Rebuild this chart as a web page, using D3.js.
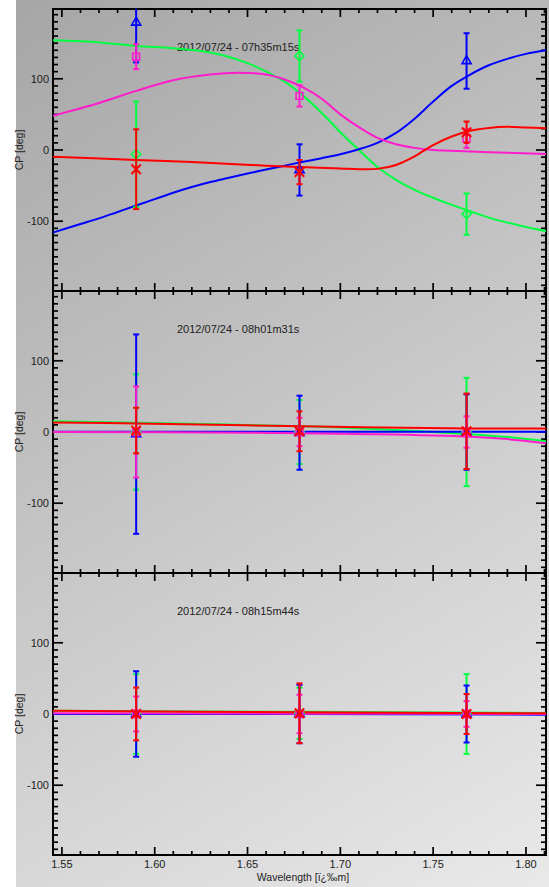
<!DOCTYPE html>
<html><head><meta charset="utf-8">
<script src="https://cdn.jsdelivr.net/npm/d3@7"></script>
<style>html,body{margin:0;padding:0;background:#fff;}svg{display:block;}</style>
</head><body>
<script>
// ---------- data ----------
const wavelengths = [1.59, 1.678, 1.768];
const panelTitles = ["2012/07/24 - 07h35m15s", "2012/07/24 - 08h01m31s", "2012/07/24 - 08h15m44s"];
const seriesNames = ["green", "blue", "magenta", "red"];
const seriesColors = {green: "#00ff40", blue: "#0000ff", magenta: "#ff1ccc", red: "#ff0000"};

// panel 1 : 07h35m15s
const p1Values = {green: [-6, 132, -90], blue: [179, -28, 125], magenta: [131, 76, 16], red: [-27, -31, 25]};
const p1Errors = {green: [74, 36, 29], blue: [56, 36, 39], magenta: [17.5, 15, 13], red: [56, 17, 15]};
// panel 2 : 08h01m31s
const p2Values = {green: [0, 0, 0], blue: [-3, -1, 0], magenta: [0, 0, 0], red: [2, 1, 1]};
const p2Errors = {green: [81, 45, 76], blue: [140, 52, 53], magenta: [64, 20, 22], red: [32, 28, 53]};
// panel 3 : 08h15m44s
const p3Values = {green: [0, 1, 0], blue: [0, 0, 0], magenta: [0, 0, 0], red: [0, 1, 0]};
const p3Errors = {green: [56, 36, 56], blue: [60, 41, 40], magenta: [24.5, 27, 18], red: [37, 42, 28]};

// model curves [wavelength, value]
const p1Curves = {
  green: [[1.545,154],[1.57,151],[1.59,146],[1.61,143],[1.63,137],[1.65,122],[1.67,96],[1.68,76],[1.69,52],[1.70,25],[1.71,0],[1.72,-24],[1.73,-42],[1.74,-56],[1.75,-67],[1.76,-77],[1.77,-86],[1.78,-95],[1.79,-102],[1.80,-108],[1.811,-114]],
  blue: [[1.545,-116],[1.56,-104],[1.57,-96],[1.58,-87],[1.59,-78],[1.60,-69],[1.61,-60],[1.62,-52],[1.63,-45],[1.64,-39],[1.65,-33],[1.66,-27.5],[1.67,-22],[1.68,-16.5],[1.69,-11.5],[1.70,-6],[1.71,1],[1.72,10],[1.73,24],[1.74,44],[1.75,68],[1.76,90],[1.77,106],[1.78,119],[1.79,128],[1.80,135],[1.811,140]],
  magenta: [[1.545,48],[1.57,66],[1.59,83],[1.61,98],[1.63,106],[1.645,108.5],[1.66,106],[1.67,99],[1.68,88],[1.69,72],[1.70,50],[1.71,32],[1.72,17],[1.73,8],[1.74,3],[1.75,0],[1.77,-2],[1.79,-4],[1.811,-5.5]],
  red: [[1.545,-9.4],[1.59,-14],[1.62,-17],[1.66,-22],[1.70,-26],[1.71,-27],[1.72,-26.5],[1.73,-21],[1.74,-9],[1.75,7],[1.76,19],[1.77,27],[1.78,31],[1.79,32.5],[1.80,31.5],[1.811,30.5]]
};
const p2Curves = {
  green: [[1.545,15],[1.59,13],[1.68,8],[1.72,4],[1.77,-3],[1.79,-7],[1.811,-13]],
  blue: [[1.545,0.5],[1.68,0.5],[1.811,0.4]],
  magenta: [[1.545,0],[1.65,-1],[1.70,-2.5],[1.72,-3],[1.77,-6.5],[1.79,-10],[1.811,-16]],
  red: [[1.545,13.5],[1.59,12],[1.68,8],[1.77,5],[1.811,5]]
};
const p3Curves = {
  green: [[1.545,4.6],[1.68,3],[1.811,1.5]],
  blue: [[1.545,0],[1.68,0],[1.811,-1]],
  magenta: [[1.545,1],[1.68,0.5],[1.811,0]],
  red: [[1.545,4.5],[1.68,2.5],[1.811,1]]
};

const xMajorTicks = [1.55, 1.60, 1.65, 1.70, 1.75, 1.80];
const yMajorTicks = [-100, 0, 100];
const xLabel = "Wavelength [ï¿‰m]";
const yLabel = "CP [deg]";

const panels = [
  {title: panelTitles[0], values: p1Values, errors: p1Errors, curves: p1Curves},
  {title: panelTitles[1], values: p2Values, errors: p2Errors, curves: p2Curves},
  {title: panelTitles[2], values: p3Values, errors: p3Errors, curves: p3Curves}
];
const markerTypes = {blue: d3.symbolTriangle2, green: d3.symbolDiamond2, magenta: d3.symbolSquare2, red: d3.symbolX};
const markerSizes = {blue: 60, green: 55, magenta: 60, red: 60};

// ---------- layout ----------
const W = 549, H = 887;
const L = 53, R = 546, panelTops = [9, 291, 573], PH = 282;
const font = "'Liberation Sans', Arial, Helvetica, sans-serif";

const svg = d3.select("body").append("svg").attr("width", W).attr("height", H);
const defs = svg.append("defs");
const grad = defs.append("linearGradient").attr("id", "bg").attr("gradientUnits", "userSpaceOnUse")
  .attr("x1", 16).attr("y1", 0).attr("x2", 549).attr("y2", 887);
grad.append("stop").attr("offset", 0).attr("stop-color", "#a6a6a6");
grad.append("stop").attr("offset", 1).attr("stop-color", "#e9e9e9");
svg.append("rect").attr("width", W).attr("height", H).attr("fill", "#fff");
svg.append("rect").attr("x", 16).attr("y", 0).attr("width", W - 16).attr("height", H).attr("fill", "url(#bg)");

const x = d3.scaleLinear().domain([1.5452, 1.8108]).range([L, R]);
const xMinor = d3.range(1.55, 1.8105, 0.01).map(v => +v.toFixed(2));
const yMinor = d3.range(-190, 191, 10);

panels.forEach((p, i) => {
  const top = panelTops[i], bottom = top + PH;
  const y = d3.scaleLinear().domain([-198, 198]).range([bottom, top]);
  const g = svg.append("g");
  const cid = "clip" + i;
  defs.append("clipPath").attr("id", cid).append("rect").attr("x", L).attr("y", top).attr("width", R - L).attr("height", PH);

  // ticks
  const tk = g.append("g").attr("stroke", "#000").attr("stroke-width", 1.7);
  xMinor.forEach(v => {
    const isMaj = xMajorTicks.some(m => Math.abs(m - v) < 1e-6);
    const len = isMaj ? 8 : 4;
    tk.append("line").attr("x1", x(v)).attr("x2", x(v)).attr("y1", bottom).attr("y2", bottom - len);
    tk.append("line").attr("x1", x(v)).attr("x2", x(v)).attr("y1", top).attr("y2", top + len);
  });
  yMinor.forEach(v => {
    const isMaj = yMajorTicks.includes(v);
    const len = isMaj ? 10 : 5;
    tk.append("line").attr("x1", L).attr("x2", L + len).attr("y1", y(v)).attr("y2", y(v));
    tk.append("line").attr("x1", R).attr("x2", R - len).attr("y1", y(v)).attr("y2", y(v));
  });
  g.append("rect").attr("x", L).attr("y", top).attr("width", R - L).attr("height", PH)
    .attr("fill", "none").attr("stroke", "#000").attr("stroke-width", 2);

  // y tick labels
  yMajorTicks.forEach(v => {
    g.append("text").attr("x", 49).attr("y", y(v)).attr("dy", "0.35em").attr("text-anchor", "end")
      .attr("font-family", font).attr("font-size", 11).attr("fill", "#222").text(v);
  });
  g.append("text").attr("transform", `translate(23,${(top + bottom) / 2}) rotate(-90)`)
    .attr("text-anchor", "middle").attr("font-family", font).attr("font-size", 10.5).attr("fill", "#222").text(yLabel);

  g.append("text").attr("x", 177).attr("y", top + 42).attr("font-family", font).attr("font-size", 11)
    .attr("fill", "#222").text(p.title);

  const plot = g.append("g").attr("clip-path", `url(#${cid})`);
  const line = d3.line().x(d => x(d[0])).y(d => y(d[1])).curve(d3.curveCatmullRom.alpha(0.5));
  seriesNames.forEach(s => {
    const c = seriesColors[s];
    plot.append("path").datum(p.curves[s]).attr("d", line).attr("fill", "none").attr("stroke", c).attr("stroke-width", 2);
  });
  seriesNames.forEach(s => {
    const c = seriesColors[s];
    wavelengths.forEach((w, k) => {
      const v = p.values[s][k], e = p.errors[s][k];
      const px = x(w);
      plot.append("line").attr("x1", px).attr("x2", px).attr("y1", y(v + e)).attr("y2", y(v - e)).attr("stroke", c).attr("stroke-width", 2);
      [v + e, v - e].forEach(t => plot.append("line").attr("x1", px - 3).attr("x2", px + 3).attr("y1", y(t)).attr("y2", y(t)).attr("stroke", c).attr("stroke-width", 2));
      plot.append("path").attr("d", d3.symbol().type(markerTypes[s]).size(markerSizes[s])())
        .attr("transform", `translate(${px},${y(v)})`).attr("fill", "none").attr("stroke", c).attr("stroke-width", s === "red" ? 2 : 1.6);
    });
  });
});

// x tick labels and axis label
xMajorTicks.forEach(v => {
  svg.append("text").attr("x", x(v)).attr("y", 868).attr("text-anchor", "middle").attr("font-family", font)
    .attr("font-size", 11).attr("fill", "#222").text(v.toFixed(2));
});
svg.append("text").attr("x", 303).attr("y", 881).attr("text-anchor", "middle").attr("font-family", font)
  .attr("font-size", 10.5).attr("fill", "#222").text(xLabel);
</script>
</body></html>
